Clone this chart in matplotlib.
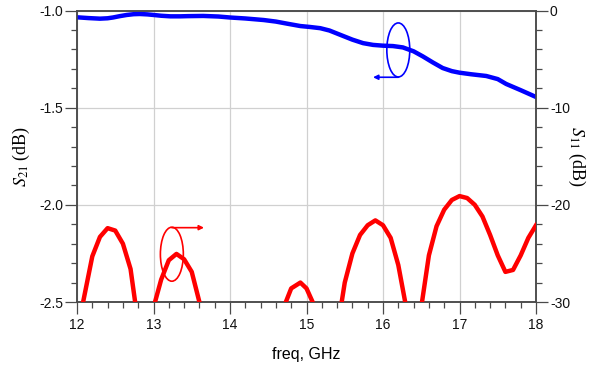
import matplotlib
matplotlib.use("Agg")
import matplotlib.pyplot as plt
from matplotlib.patches import Ellipse
from matplotlib.ticker import MultipleLocator

plt.rcParams["mathtext.fontset"] = "stix"

# S21 (left axis, dB) and S11 (right axis, dB) versus frequency in GHz
freq_s21 = [12.0, 12.15, 12.3, 12.4, 12.47, 12.56, 12.65, 12.74, 12.82, 12.92,
            13.0, 13.1, 13.22, 13.35, 13.45, 13.65, 13.85, 14.0, 14.2, 14.44,
            14.6, 14.75, 14.92, 15.05, 15.18, 15.3, 15.44, 15.6, 15.74, 15.87,
            16.0, 16.13, 16.26, 16.4, 16.52, 16.65, 16.78, 16.9, 17.0, 17.15,
            17.35, 17.5, 17.61, 17.8, 18.0]
s21_db = [-1.035, -1.039, -1.042, -1.040, -1.036, -1.029, -1.023, -1.019, -1.018, -1.020,
          -1.023, -1.027, -1.030, -1.030, -1.029, -1.028, -1.031, -1.036, -1.041, -1.049,
          -1.057, -1.068, -1.080, -1.085, -1.091, -1.103, -1.125, -1.150, -1.168, -1.177,
          -1.181, -1.183, -1.190, -1.210, -1.236, -1.267, -1.296, -1.312, -1.320, -1.328,
          -1.337, -1.353, -1.378, -1.410, -1.445]

freq_s11 = [12.0, 12.08, 12.2, 12.3, 12.4, 12.5, 12.6, 12.7, 12.76, 12.85,
            12.95, 13.02, 13.1, 13.2, 13.3, 13.4, 13.5, 13.6, 13.7,
            14.6, 14.73, 14.8, 14.92, 15.0, 15.08, 15.2,
            15.35, 15.46, 15.5, 15.6, 15.7, 15.8, 15.9, 16.0, 16.1, 16.2, 16.29, 16.4,
            16.51, 16.6, 16.7, 16.8, 16.9, 17.0, 17.1, 17.2, 17.3, 17.4, 17.5,
            17.6, 17.7, 17.8, 17.9, 18.0]
s11_db = [-36.0, -30.0, -25.3, -23.3, -22.4, -22.65, -24.0, -26.6, -30.0, -36.0,
          -36.0, -30.0, -27.7, -25.7, -25.05, -25.6, -26.9, -30.0, -36.0,
          -36.0, -30.0, -28.6, -28.0, -28.6, -30.0, -36.0,
          -36.0, -30.0, -28.0, -25.0, -23.1, -22.1, -21.6, -22.1, -23.4, -26.2, -30.0, -36.0,
          -30.0, -25.2, -22.2, -20.5, -19.5, -19.1, -19.3, -20.0, -21.2, -23.1, -25.2,
          -26.9, -26.7, -25.2, -23.4, -22.1]

x_ticks = [12, 13, 14, 15, 16, 17, 18]
s21_ticks = [-1.0, -1.5, -2.0, -2.5]
s11_ticks = [0, -10, -20, -30]

SPINE = "#4a4a4a"
GRID = "#d0d0d0"
TICK_FONT = "Liberation Sans"

fig = plt.figure(figsize=(5.99, 3.69), dpi=100)
ax = fig.add_axes([77 / 599, (369 - 302) / 369, (536 - 77) / 599, (302 - 10.5) / 369])
ax2 = ax.twinx()

ax.plot(freq_s21, s21_db, color="#0000ff", lw=3.2, solid_joinstyle="round", zorder=3)
ax2.plot(freq_s11, s11_db, color="#ff0000", lw=3.2, solid_joinstyle="round", zorder=3)

ax.set_xlim(12, 18)
ax.set_ylim(-2.5, -1.0)
ax2.set_ylim(-30, 0)

ax.set_xticks(x_ticks)
ax.set_xticklabels([str(t) for t in x_ticks])
ax.xaxis.set_minor_locator(MultipleLocator(0.2))
ax.set_yticks(s21_ticks)
ax.set_yticklabels([f"{t:.1f}" for t in s21_ticks])
ax.yaxis.set_minor_locator(MultipleLocator(0.1))
ax2.set_yticks(s11_ticks)
ax2.set_yticklabels([str(t) for t in s11_ticks])
ax2.yaxis.set_minor_locator(MultipleLocator(2))
ax.yaxis.set_ticks_position("left")
ax2.yaxis.set_ticks_position("right")
ax.xaxis.set_ticks_position("bottom")

ax.grid(True, which="major", color=GRID, lw=0.9, zorder=0)
ax.set_axisbelow(True)

for a in (ax, ax2):
    for s in a.spines.values():
        s.set_color(SPINE)
        s.set_linewidth(1.1)
    a.tick_params(which="major", direction="out", length=8.5, width=0.9, color=SPINE,
                  pad=1.5, labelsize=10, labelcolor="#111111")
    a.tick_params(which="minor", direction="out", length=4.5, width=0.9, color=SPINE)
ax.tick_params(axis="x", which="major", pad=3)
for lbl in ax.get_xticklabels() + ax.get_yticklabels() + ax2.get_yticklabels():
    lbl.set_family(TICK_FONT)

ax.set_xlabel("freq, GHz", family=TICK_FONT, fontsize=11.5, labelpad=11)
ax.set_ylabel(r"$S_{21}$ (dB)", family="Liberation Serif", fontsize=13, labelpad=5)
ax2.set_ylabel(r"$S_{11}$ (dB)", family="Liberation Serif", fontsize=13,
               rotation=270, labelpad=12)

# Ellipse markers with arrows pointing to the axis each curve belongs to
ax2.add_patch(Ellipse((16.2, -4.06), 0.30, 5.56, fill=False, ec="#0000ff", lw=1.2, zorder=4))
ax2.annotate("", xy=(15.87, -6.87), xytext=(16.2, -6.87),
             arrowprops=dict(arrowstyle="-|>", color="#0000ff", lw=1.2,
                             mutation_scale=7, shrinkA=0, shrinkB=0), zorder=4)
ax2.add_patch(Ellipse((13.24, -25.08), 0.30, 5.56, fill=False, ec="#ff0000", lw=1.2, zorder=4))
ax2.annotate("", xy=(13.66, -22.35), xytext=(13.24, -22.35),
             arrowprops=dict(arrowstyle="-|>", color="#ff0000", lw=1.2,
                             mutation_scale=7, shrinkA=0, shrinkB=0), zorder=4)

fig.savefig("out.png", dpi=100)
